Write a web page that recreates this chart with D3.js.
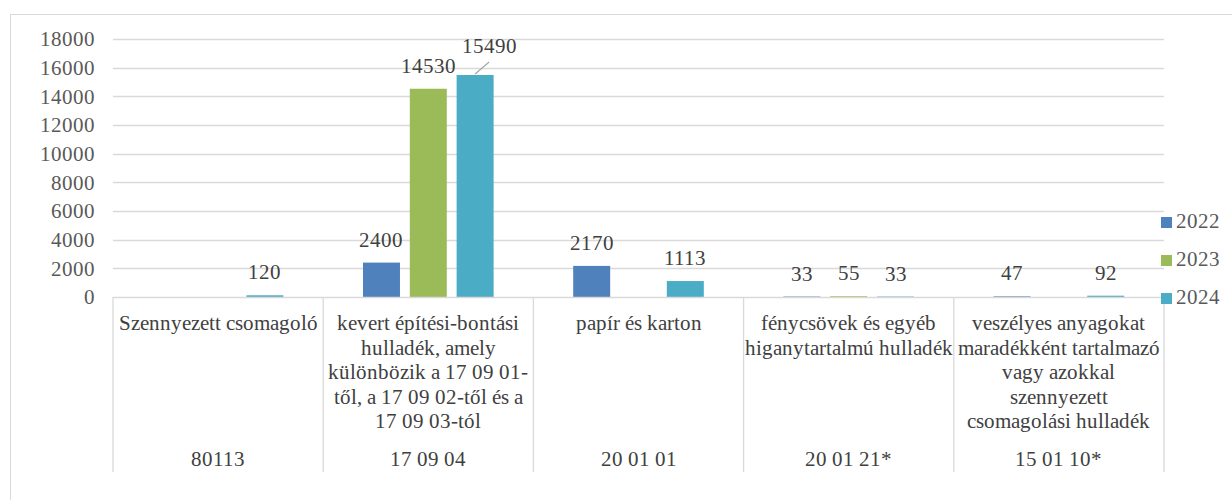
<!DOCTYPE html>
<html>
<head>
<meta charset="utf-8">
<script src="https://cdn.jsdelivr.net/npm/d3@7"></script>
<style>
  @font-face { font-family: "ChartSerif"; src: local("Liberation Serif"), local("LiberationSerif"), local("Times New Roman"); }
  body { margin: 0; }
  svg text { font-family: "ChartSerif", "Liberation Serif", serif !important; }
</style>
</head>
<body>
<svg id="chart" width="1232" height="500"></svg>
<script>
// data
var codes = ["80113", "17 09 04", "20 01 01", "20 01 21*", "15 01 10*"];
var names = [
  ["Szennyezett csomagoló"],
  ["kevert építési-bontási", "hulladék, amely", "különbözik a 17 09 01-", "től, a 17 09 02-től és a", "17 09 03-tól"],
  ["papír és karton"],
  ["fénycsövek és egyéb", "higanytartalmú hulladék"],
  ["veszélyes anyagokat", "maradékként tartalmazó", "vagy azokkal", "szennyezett", "csomagolási hulladék"]
];
var years = ["2022", "2023", "2024"];
var v2022 = [null, 2400, 2170, 33, 47];
var v2023 = [null, 14530, null, 55, null];
var v2024 = [120, 15490, 1113, 33, 92];
var yTicks = [0, 2000, 4000, 6000, 8000, 10000, 12000, 14000, 16000, 18000];

var series = [v2022, v2023, v2024];
var colors = ["#4F81BD", "#9BBB59", "#4BACC6"];
var FS = 21;

var svg = d3.select("#chart");
var plot = {left: 113, right: 1164, top: 39, bottom: 297};

// outer frame
svg.append("rect")
    .attr("x", 10.5).attr("y", 14.5)
    .attr("width", 1230).attr("height", 490)
    .attr("fill", "none")
    .attr("stroke", "#D9D9D9");

var x0 = d3.scaleBand()
    .domain(codes)
    .range([plot.left, plot.right]);

var x1 = d3.scaleBand()
    .domain(years)
    .range([0, x0.bandwidth()])
    .paddingInner(0.21)
    .paddingOuter(0.85);

var y = d3.scaleLinear()
    .domain([0, 18000])
    .range([plot.bottom, plot.top]);

// gridlines
svg.append("g")
    .selectAll("line")
    .data(yTicks.slice(1))
  .enter().append("line")
    .attr("x1", plot.left).attr("x2", plot.right)
    .attr("y1", function(d) { return Math.round(y(d)) + 0.5; })
    .attr("y2", function(d) { return Math.round(y(d)) + 0.5; })
    .attr("stroke", "#D9D9D9")
    .attr("stroke-width", 1.3);

// y axis labels
var yAxis = svg.append("g")
    .attr("transform", "translate(" + plot.left + ",0)")
    .call(d3.axisLeft(y).tickValues(yTicks).tickSize(0).tickPadding(18).tickFormat(d3.format("d")));
yAxis.attr("font-family", null).attr("font-size", FS);
yAxis.select(".domain").remove();
yAxis.selectAll("text")
    .attr("fill", "#595959");

// bars
var groups = svg.append("g")
    .selectAll("g")
    .data(years)
  .enter().append("g")
    .attr("fill", function(d, i) { return colors[i]; });

function rows(yr, i) {
  return series[i].map(function(v, j) { return {year: yr, code: codes[j], value: v}; })
    .filter(function(d) { return d.value != null; });
}

groups.selectAll("rect")
    .data(rows)
  .enter().append("rect")
    .attr("x", function(d) { return x0(d.code) + x1(d.year); })
    .attr("width", x1.bandwidth())
    .attr("y", function(d) { return y(d.value); })
    .attr("height", function(d) { return Math.max(1, y(0) - y(d.value)); });

// data labels
groups.selectAll("text")
    .data(rows)
  .enter().append("text")
    .attr("text-anchor", "middle")
    .attr("fill", "#404040")
    .attr("x", function(d) {
      var cx = x0(d.code) + x1(d.year) + x1.bandwidth() / 2;
      return d.value === 15490 ? cx + 14 : cx;
    })
    .attr("y", function(d) {
      return d.value === 15490 ? y(d.value) - 22 : y(d.value) - 16;
    })
    .text(function(d) { return d.value; });

// leader line for the shifted label
var big = {code: codes[1], year: "2024", value: v2024[1]};
var bx = x0(big.code) + x1(big.year) + x1.bandwidth() / 2;
svg.append("line")
    .attr("x1", bx).attr("y1", y(big.value) - 1)
    .attr("x2", bx + 14).attr("y2", y(big.value) - 13)
    .attr("stroke", "#A6A6A6")
    .attr("stroke-width", 1.2);

// category axis with boxes
var catBottom = 472;
svg.append("line")
    .attr("x1", plot.left).attr("x2", plot.right)
    .attr("y1", plot.bottom + 0.5).attr("y2", plot.bottom + 0.5)
    .attr("stroke", "#D9D9D9").attr("stroke-width", 1.3);

svg.append("g")
    .selectAll("line")
    .data(codes.concat([null]))
  .enter().append("line")
    .attr("x1", function(d) { return d == null ? plot.right : x0(d); })
    .attr("x2", function(d) { return d == null ? plot.right : x0(d); })
    .attr("y1", plot.bottom)
    .attr("y2", catBottom)
    .attr("stroke", "#D9D9D9")
    .attr("stroke-width", 1.3);

var cats = svg.append("g")
    .selectAll("g")
    .data(codes)
  .enter().append("g")
    .attr("transform", function(d) { return "translate(" + (x0(d) + x0.bandwidth() / 2) + ",0)"; });

cats.append("text")
    .attr("text-anchor", "middle")
    .attr("fill", "#404040")
    .selectAll("tspan")
    .data(function(d, i) { return names[i]; })
  .enter().append("tspan")
    .attr("x", 0)
    .attr("y", function(d, i) { return 330 + i * 24.5; })
    .text(function(d) { return d; });

cats.append("text")
    .attr("text-anchor", "middle")
    .attr("fill", "#404040")
    .attr("y", 466)
    .text(function(d) { return d; });

// legend
var legend = svg.append("g")
    .selectAll("g")
    .data(years)
  .enter().append("g")
    .attr("transform", function(d, i) { return "translate(1161," + (217 + i * 38) + ")"; });

legend.append("rect")
    .attr("width", 11).attr("height", 11)
    .attr("fill", function(d, i) { return colors[i]; });

legend.append("text")
    .attr("x", 15).attr("y", 11)
    .attr("fill", "#595959")
    .text(function(d) { return d; });

// same size on every label
svg.selectAll("text")
    .attr("font-size", FS);
</script>
</body>
</html>
